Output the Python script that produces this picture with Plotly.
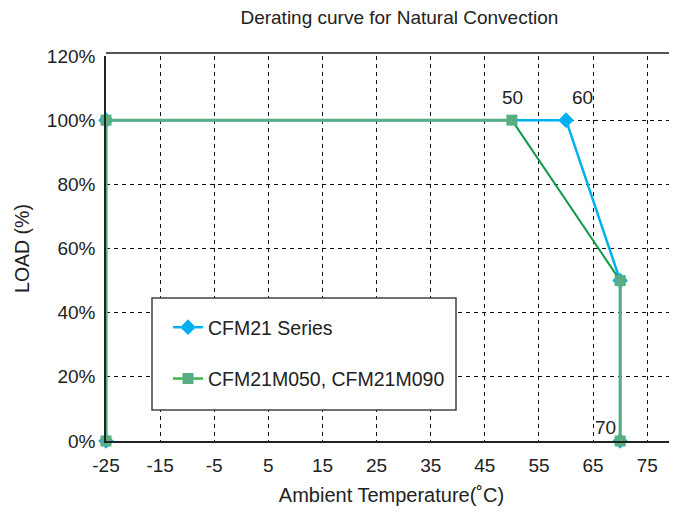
import plotly.graph_objects as go

# Data
temp_cfm21 = [-25, -25, 60, 70, 70]
load_cfm21 = [0, 100, 100, 50, 0]
temp_m050 = [-25, -25, 50, 70, 70]
load_m050 = [0, 100, 100, 50, 0]
x_ticks = [-25, -15, -5, 5, 15, 25, 35, 45, 55, 65, 75]
x_labels = ["-25", "-15", "-5", "5", "15", "25", "35", "45", "55", "65", "75"]
y_ticks = [0, 20, 40, 60, 80, 100, 120]
y_labels = ["0%", "20%", "40%", "60%", "80%", "100%", "120%"]
point_labels = [("50", 50, 100), ("60", 60, 100), ("70", 70, 0)]

BLUE = "#00b0f0"
GREEN_LIGHT = "#58ae82"
GREEN_DARK = "#0f9a48"
GREEN_LEG = "#3cb44b"
FONT = "Liberation Sans, Arial, sans-serif"

fig = go.Figure()

fig.add_trace(go.Scatter(
    x=temp_cfm21, y=load_cfm21, mode="lines+markers", name="CFM21 Series",
    line=dict(color=BLUE, width=2.5),
    marker=dict(symbol="diamond", size=12, color=BLUE),
    cliponaxis=False, showlegend=False))

# green frame segments (-25 vertical, 100% horizontal, 70 vertical)
fig.add_trace(go.Scatter(
    x=temp_m050[:3], y=load_m050[:3], mode="lines",
    line=dict(color=GREEN_LIGHT, width=3),
    cliponaxis=False, showlegend=False, hoverinfo="skip"))
fig.add_trace(go.Scatter(
    x=temp_m050[3:], y=load_m050[3:], mode="lines",
    line=dict(color=GREEN_LIGHT, width=3),
    cliponaxis=False, showlegend=False, hoverinfo="skip"))
# diagonal derating segment
fig.add_trace(go.Scatter(
    x=temp_m050[2:4], y=load_m050[2:4], mode="lines",
    line=dict(color=GREEN_DARK, width=2),
    cliponaxis=False, showlegend=False, hoverinfo="skip"))
fig.add_trace(go.Scatter(
    x=temp_m050, y=load_m050, mode="markers", name="CFM21M050, CFM21M090",
    marker=dict(symbol="square", size=11, color=GREEN_LIGHT),
    cliponaxis=False, showlegend=False))

# legend entries
fig.add_trace(go.Scatter(
    x=[None], y=[None], mode="lines+markers", name="CFM21 Series",
    line=dict(color=BLUE, width=2.5),
    marker=dict(symbol="diamond", size=12, color=BLUE), legendgroup="a"))
fig.add_trace(go.Scatter(
    x=[None], y=[None], mode="lines+markers", name="CFM21M050, CFM21M090",
    line=dict(color=GREEN_LEG, width=2.5),
    marker=dict(symbol="square", size=11, color=GREEN_LIGHT), legendgroup="b"))

for txt, xv, yv in point_labels:
    dx = {"50": 1, "60": 16, "70": -15}[txt]
    dy = {"50": -23, "60": -23, "70": -14}[txt]
    fig.add_annotation(x=xv, y=yv, text=txt, showarrow=True, arrowcolor="rgba(0,0,0,0)",
                       ax=dx, ay=dy, font=dict(size=19, color="#222"))

# page has an 8px body margin: figure is offset by (8, 8) on screen
OFF = 8
PW, PH = 571, 385          # plot area size
SL, ST = 106, 56           # plot area top-left on screen
L, T = SL - OFF, ST - OFF
W, H = 677 - OFF, 512 - OFF
B = H - T - PH

# top border line
fig.add_shape(type="line", xref="paper", yref="paper", x0=0, x1=1, y0=1.008, y1=1.008,
              line=dict(color="#555", width=2))
# legend box
fig.add_shape(type="rect", xref="paper", yref="paper",
              x0=(152 - SL) / PW, x1=(456 - SL) / PW,
              y0=(ST + PH - 410) / PH, y1=(ST + PH - 298) / PH,
              line=dict(color="#444", width=1.5), fillcolor="white", layer="above")

fig.update_layout(
    width=W, height=H,
    margin=dict(l=L, r=0, t=T, b=B),
    paper_bgcolor="white", plot_bgcolor="white",
    font=dict(family=FONT, size=19, color="#222"),
    title=dict(text="Derating curve for Natural Convection", x=0.585, xanchor="center",
               y=1 - 9 / H, yanchor="middle", font=dict(size=19, color="#222")),
    legend=dict(x=(168 - SL) / PW, y=(ST + PH - 308) / PH, xanchor="left", yanchor="top",
                borderwidth=0, bgcolor="rgba(0,0,0,0)",
                font=dict(size=19.5, color="#222"), tracegroupgap=23),
    xaxis=dict(range=[-25, 80.5], tickvals=x_ticks, ticktext=x_labels, showgrid=True,
               gridcolor="#111", griddash="4px,4px", gridwidth=1,
               showline=True, linecolor="#222", linewidth=1.5,
               zeroline=False, ticks="", ticklabelstandoff=6, automargin=False,
               title=dict(text="Ambient Temperature(˚C)", font=dict(size=20), standoff=13)),
    yaxis=dict(range=[0, 120], tickvals=y_ticks, ticktext=y_labels, showgrid=True,
               gridcolor="#111", griddash="4px,4px", gridwidth=1,
               showline=True, linecolor="#222", linewidth=1.5,
               zeroline=False, ticks="", ticklabelstandoff=5, automargin=False,
               title=dict(text="LOAD (%)", font=dict(size=19.5), standoff=12)),
)

fig.write_html("out.html")
